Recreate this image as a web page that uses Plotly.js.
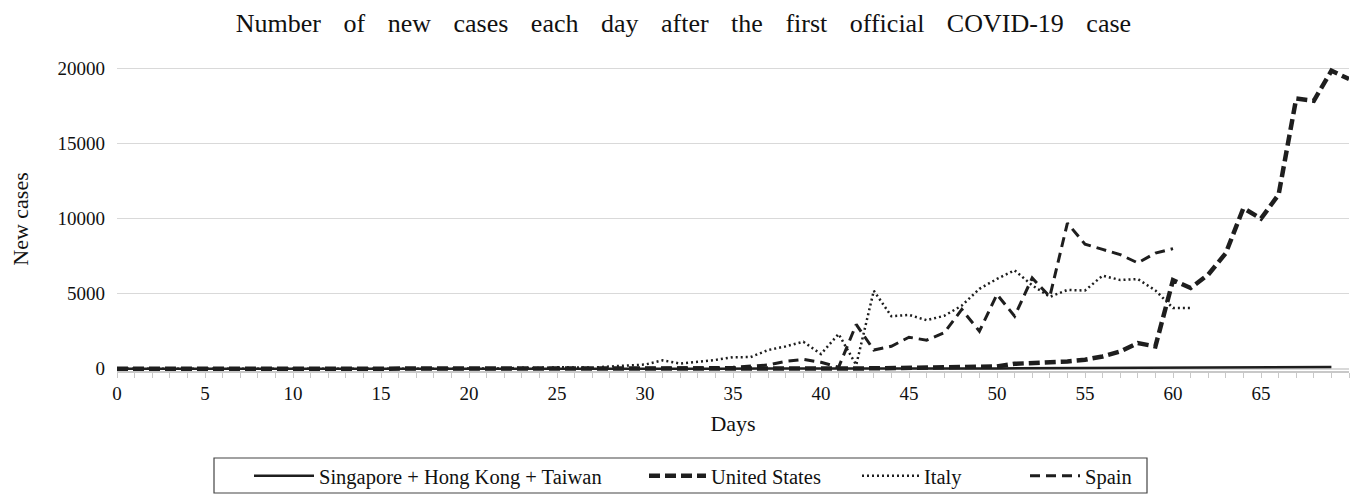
<!DOCTYPE html>
<html>
<head>
<meta charset="utf-8">
<script src="https://cdn.plot.ly/plotly-3.0.1.min.js"></script>
<style>
html,body{margin:0;padding:0;background:#fff;}
#chart{width:1355px;height:496px;}
#chart .gtitle{word-spacing:16px;}
</style>
</head>
<body>
<div id="chart"></div>
<script>
// Series names
const seriesNames = ["Singapore + Hong Kong + Taiwan", "United States", "Italy", "Spain"];

// Daily new cases, index = days after first official case
const shtCases = [1,0,2,3,2,4,3,2,5,4, 3,6,4,5,3,6,4,5,7,4, 3,5,6,4,3,5,4,6,3,5,
  4,7,5,6,8,5,6,7,9,8, 10,12,9,14,11,13,15,17,20,18, 22,26,30,35,40,45,60,70,80,90,
  110,95,100,105,110,115,120,125,130,120];

const usCases = [1,0,0,1,0,0,0,0,1,0, 1,0,0,0,1,0,0,0,0,0, 0,0,1,0,0,0,0,1,0,0,
  0,0,0,0,0,3,0,1,2,5, 10,15,20,30,40,60,80,100,120,140,
  150,330,380,420,490,600,820,1150,1710,1490,
  5900,5380,6270,7700,10700,10000,11600,18000,17850,19850, 19300];

const italyCases = [3,0,0,0,0,0,0,0,0,0, 0,0,0,0,0,0,0,0,0,0, 0,0,17,62,53,97,93,78,150,200,
  280,561,347,466,587,769,778,1247,1492,1797,
  977,2313,250,5198,3497,3590,3233,3526,4207,5322,
  5986,6557,5560,4789,5249,5210,6203,5909,5974,5217, 4050,4053];

const spainCases = [1,0,0,0,0,0,0,0,1,0, 0,0,0,0,0,0,0,0,0,0, 0,0,0,0,2,4,3,5,10,15,
  20,30,40,50,80,100,150,250,500,620,
  430,100,2950,1250,1500,2100,1900,2400,3950,2500,
  4950,3500,6050,4800,9700,8300,7950,7600,7050,7700, 8000];

// Axis ticks
const xTickVals = [0,5,10,15,20,25,30,35,40,45,50,55,60,65];
const yTickVals = [0,5000,10000,15000,20000];

function days(arr){ return arr.map((_, i) => i); }

const ink = "#1e1e1e";
const serif = "Liberation Serif";

const traces = [
  {x: days(shtCases), y: shtCases, name: seriesNames[0], mode: "lines", legend: "legend",
   line: {color: ink, width: 2.5}},
  {x: days(usCases), y: usCases, name: seriesNames[1], mode: "lines", legend: "legend2",
   line: {color: ink, width: 4.5, dash: "11px,5px"}},
  {x: days(italyCases), y: italyCases, name: seriesNames[2], mode: "lines", legend: "legend3",
   line: {color: ink, width: 2.5, dash: "2px,3px"}},
  {x: days(spainCases), y: spainCases, name: seriesNames[3], mode: "lines", legend: "legend4",
   line: {color: ink, width: 3, dash: "10px,6px"}}
];

function legendAt(px, sampleLen){
  return {orientation: "h", xref: "container", yref: "container",
          x: px / 1355, xanchor: "left", y: (496 - 476) / 496, yanchor: "middle",
          borderwidth: 0, bgcolor: "rgba(0,0,0,0)",
          font: {family: serif, size: 20.5, color: "#111"},
          itemwidth: sampleLen};
}

const layout = {
  width: 1355, height: 496,
  margin: {l: 117, r: 6, t: 67, b: 125},
  paper_bgcolor: "#fff", plot_bgcolor: "#fff",
  font: {family: serif, color: "#111", size: 18},
  title: {text: "Number of new cases each day after the first official COVID-19 case",
          font: {family: serif, size: 26, color: "#111"},
          x: 0.5044, xanchor: "center", y: 0.953, yanchor: "middle"},
  showlegend: true,
  legend: legendAt(249, 60),
  legend2: legendAt(644, 57),
  legend3: legendAt(857, 57),
  legend4: legendAt(1025, 50),
  shapes: [{type: "rect", xref: "paper", yref: "paper",
            x0: (214 - 117) / 1232, x1: (1147 - 117) / 1232,
            y0: (371 - 458) / 304, y1: (371 - 493) / 304,
            line: {color: "#444", width: 1.2}, fillcolor: "rgba(0,0,0,0)", layer: "below"}],
  xaxis: {
    range: [0, 70], tickvals: xTickVals, ticktext: xTickVals.map(String),
    showgrid: false, zeroline: false,
    showline: true, linecolor: "#c8c8c8", linewidth: 1.5,
    ticks: "outside", ticklen: 5, tickcolor: "#c8c8c8", tickwidth: 1,
    minor: {dtick: 1, tick0: 0, ticks: "outside", ticklen: 5, tickcolor: "#c8c8c8", showgrid: false},
    tickfont: {family: serif, size: 19, color: "#111"},
    title: {text: "Days", font: {family: serif, size: 22, color: "#111"}, standoff: 12},
    fixedrange: true
  },
  yaxis: {
    range: [-150, 20100], tickvals: yTickVals, ticktext: yTickVals.map(String),
    showgrid: true, gridcolor: "#d9d9d9", gridwidth: 1.5,
    zeroline: false, showline: false, ticks: "",
    tickfont: {family: serif, size: 19, color: "#111"},
    ticklabelstandoff: 11,
    title: {text: "New cases", font: {family: serif, size: 22, color: "#111"}, standoff: 22},
    fixedrange: true
  }
};

Plotly.newPlot("chart", traces, layout, {displayModeBar: false, staticPlot: true});
</script>
</body>
</html>
